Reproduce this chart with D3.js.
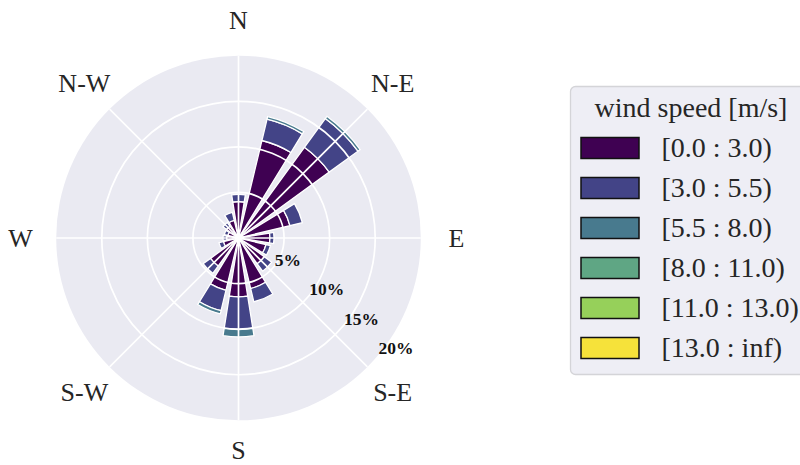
<!DOCTYPE html>
<html>
<head>
<meta charset="utf-8">
<script src="https://cdn.jsdelivr.net/npm/d3@7"></script>
<style>
  html, body { margin: 0; padding: 0; background: #fff; }
  svg { display: block; }
  text { font-family: "Liberation Serif", "Times New Roman", Tinos, Times, serif; }
</style>
</head>
<body>
<svg id="chart" width="800" height="465"></svg>
<script>
// Wind directions (16 sectors, clockwise from north)
const directions = ["N", "NNE", "NE", "ENE", "E", "ESE", "SE", "SSE",
                    "S", "SSW", "SW", "WSW", "W", "WNW", "NW", "NNW"];

// Frequency (%) of each wind speed bin per direction
const speed_0_3    = [4.0, 11.0, 12.3, 5.8, 3.45, 3.1, 3.5, 5.7, 6.45, 5.9, 3.8, 1.7, 1.3, 1.2, 1.6, 2.0];
const speed_3_55   = [0.8, 2.4, 3.9, 1.4, 0.45, 0.5, 1.0, 1.5, 3.6, 2.3, 1.0, 0.5, 0.4, 0.4, 0.5, 0.9];
const speed_55_8   = [0, 0.3, 0.3, 0, 0, 0, 0, 0, 0.8, 0.35, 0, 0, 0, 0, 0, 0];
const speed_8_11   = [0, 0, 0, 0, 0, 0, 0, 0, 0, 0, 0, 0, 0, 0, 0, 0];
const speed_11_13  = [0, 0, 0, 0, 0, 0, 0, 0, 0, 0, 0, 0, 0, 0, 0, 0];
const speed_13_inf = [0, 0, 0, 0, 0, 0, 0, 0, 0, 0, 0, 0, 0, 0, 0, 0];

const binLabels = ["[0.0 : 3.0)", "[3.0 : 5.5)", "[5.5 : 8.0)",
                   "[8.0 : 11.0)", "[11.0 : 13.0)", "[13.0 : inf)"];
const binColors = ["#3f0152", "#434487", "#487a8e", "#5fa684", "#96d05a", "#f6e23a"];

const compassLabels = ["N", "N-E", "E", "S-E", "S", "S-W", "W", "N-W"];
const radialTicks = [5, 10, 15, 20];
const radialTickLabels = ["5%", "10%", "15%", "20%"];

const series = [speed_0_3, speed_3_55, speed_55_8, speed_8_11, speed_11_13, speed_13_inf];

// Layout
const cx = 238.5, cy = 238;
const rMax = 182.3;
const svg = d3.select("#chart");
const r = d3.scaleLinear().domain([0, 20]).range([0, rMax]);
const sector = 2 * Math.PI / directions.length;
const opening = 0.8;
const ang = d3.scaleLinear().domain([0, directions.length]).range([0, 2 * Math.PI]);

const g = svg.append("g").attr("transform", `translate(${cx},${cy})`);

// Polar background
g.append("circle").attr("r", r(20)).attr("fill", "#eaeaf2");

// Stacked bars
const arc = d3.arc();
const stacks = directions.map((d, i) => {
  let base = 0;
  return series.map((s, k) => {
    const seg = { dir: i, bin: k, r0: base, r1: base + s[i] };
    base += s[i];
    return seg;
  }).filter(seg => seg.r1 > seg.r0);
});

g.append("g").selectAll("path")
  .data(stacks.flat())
  .join("path")
  .attr("d", d => arc({
    innerRadius: r(d.r0),
    outerRadius: r(d.r1),
    startAngle: ang(d.dir) - sector * opening / 2,
    endAngle: ang(d.dir) + sector * opening / 2
  }))
  .attr("fill", d => binColors[d.bin])
  .attr("stroke", "#ffffff")
  .attr("stroke-width", 1.3)
  .attr("stroke-linejoin", "miter");

// Grid: rings and spokes
const grid = g.append("g").attr("fill", "none").attr("stroke", "#ffffff").attr("stroke-width", 1.7);
grid.selectAll("circle")
  .data(radialTicks.slice(0, -1))
  .join("circle")
  .attr("r", d => r(d));
grid.selectAll("line")
  .data(compassLabels.map((c, i) => i * Math.PI / 4))
  .join("line")
  .attr("x1", 0).attr("y1", 0)
  .attr("x2", a => r(20) * Math.sin(a))
  .attr("y2", a => -r(20) * Math.cos(a));

// Compass labels (the bottom one sits a little closer to keep it inside)
const labelR = (d, i) => (i === 4 ? 212.5 : 218);
g.append("g").selectAll("text")
  .data(compassLabels)
  .join("text")
  .attr("x", (d, i) => labelR(d, i) * Math.sin(i * Math.PI / 4))
  .attr("y", (d, i) => -labelR(d, i) * Math.cos(i * Math.PI / 4) + 8.6)
  .attr("text-anchor", "middle")
  .attr("font-size", 26)
  .attr("fill", "#262626")
  .text(d => d);

// Radial tick labels
const tickAngle = 40.5 * Math.PI / 180;
g.append("g").selectAll("text")
  .data(radialTicks)
  .join("text")
  .attr("x", d => 1.5 + r(d) * Math.cos(tickAngle))
  .attr("y", d => -2 + r(d) * Math.sin(tickAngle))
  .attr("text-anchor", "start")
  .attr("font-weight", "bold")
  .attr("font-size", 17.5)
  .attr("fill", "#111111")
  .text((d, i) => radialTickLabels[i]);

// Legend
const legend = svg.append("g");
legend.append("rect")
  .attr("x", 570.5).attr("y", 86.5)
  .attr("width", 260).attr("height", 288)
  .attr("rx", 5)
  .attr("fill", "#eeeef5")
  .attr("stroke", "#d4d4d8")
  .attr("stroke-width", 1.3);
legend.append("text")
  .attr("x", 691).attr("y", 117)
  .attr("text-anchor", "middle")
  .attr("font-size", 28)
  .attr("fill", "#262626")
  .text("wind speed [m/s]");

const ly = d3.scaleLinear().domain([0, 1]).range([137.5, 177.5]);
const items = legend.selectAll("g.item")
  .data(binLabels)
  .join("g")
  .attr("class", "item")
  .attr("transform", (d, i) => `translate(0,${ly(i)})`);
items.append("rect")
  .attr("x", 581).attr("y", 0)
  .attr("width", 58).attr("height", 21)
  .attr("fill", (d, i) => binColors[i])
  .attr("stroke", "#111111")
  .attr("stroke-width", 1.5);
items.append("text")
  .attr("x", 661.5).attr("y", 19.2)
  .attr("font-size", 28)
  .attr("fill", "#262626")
  .text(d => d);
</script>
</body>
</html>
